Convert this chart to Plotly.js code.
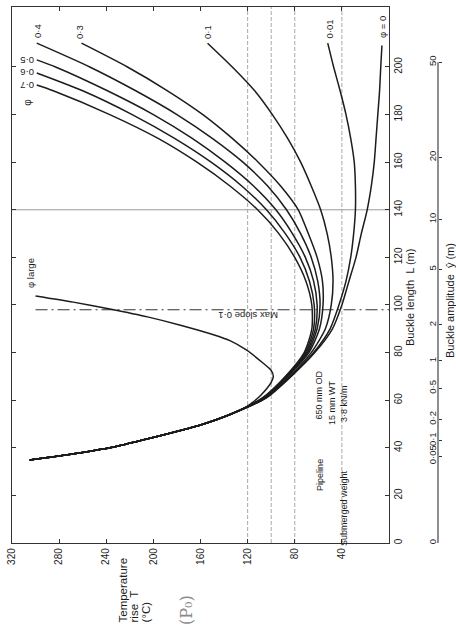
<!DOCTYPE html>
<html><head><meta charset="utf-8">
<script src="https://cdn.plot.ly/plotly-3.0.1.min.js"></script>
<style>html,body{margin:0;padding:0;background:#fff;} #chart{width:456px;height:628px;}</style>
</head><body><div id="chart"></div>
<script>
// ---------------- data ----------------
// Temperature rise T (°C) on the horizontal axis (reversed), buckle length L (m) vertical
const tempTicks = [40, 80, 120, 160, 200, 240, 280, 320];
const lenTicks = [0, 20, 40, 60, 80, 100, 120, 140, 160, 180, 200];
// buckle amplitude scale: tick positions (in L) and labels
const ampPosL = [0, 36.5, 43, 52, 65, 76.5, 91.6, 115, 136, 162, 202];
const ampLabels = ["0", "0·05", "0·1", "0·2", "0·5", "1", "2", "5", "10", "20", "50"];

// shared steep branch (all curves)
const branchL = [34.9, 37, 40, 44, 49.6, 54];
const branchT = [305, 274, 237, 203, 160, 135];

const phi0_L = [61, 70, 80, 90, 100, 110, 120, 130, 140, 150, 160, 170, 180, 190, 200, 209];
const phi0_T = [104, 83, 63, 48, 40, 34, 28, 23.5, 18.5, 15, 12.5, 11, 9.5, 8, 7, 6];
const phi001_L = [61, 70, 80, 90, 100, 110, 120, 130, 140, 150, 160, 170, 180, 190, 200, 210];
const phi001_T = [104.5, 83.5, 64, 50, 42.5, 36.5, 32.5, 30, 28.5, 28.5, 29.5, 32.5, 36.5, 41.5, 47, 52];
const phi01_L = [61, 70, 80, 90, 100, 110, 120, 130, 140, 150, 160, 170, 180, 190, 200, 210];
const phi01_T = [105, 84.5, 66, 54, 49, 47.5, 49, 52.5, 58, 66, 75, 86, 99, 114, 133, 154];
const phi03_L = [61, 70, 80, 90, 100, 110, 120, 130, 140, 150, 160, 170, 180, 190, 200, 210];
const phi03_T = [106, 86, 68, 59, 56, 56.5, 61, 68.5, 77, 92, 111, 133, 158, 188, 222, 261];
const phi04_L = [61, 70, 80, 90, 100, 110, 120, 130, 140, 150, 160, 170, 180, 190, 200, 210];
const phi04_T = [106, 86.5, 69, 61, 58.5, 60.5, 66, 75, 87, 103, 124, 150, 180, 215, 254, 299];
const phi05_L = [61, 70, 80, 90, 100, 110, 120, 130, 140, 150, 160, 170, 180, 190, 200, 203];
const phi05_T = [106.5, 87, 70, 62.5, 61, 64, 71, 82, 96, 115, 139, 167, 200, 239, 283, 299];
const phi06_L = [61, 70, 80, 90, 100, 110, 120, 130, 140, 150, 160, 170, 180, 190, 197.5];
const phi06_T = [107, 87.5, 71, 64, 63.5, 67.5, 75.5, 88, 104, 125, 151, 182, 218, 260, 299];
const phi07_L = [61, 70, 80, 90, 100, 110, 120, 130, 140, 150, 160, 170, 180, 190, 192.4];
const phi07_T = [107.5, 88, 72, 65.5, 65.5, 70.5, 80, 93.5, 111.5, 135, 163, 196, 237, 285, 299];
const large_L = [56, 59, 62, 65, 67.5, 70, 72.5, 75.5, 81, 85, 87.5, 91.5, 95, 98.3, 101.2, 103.8];
const large_T = [125, 116, 109, 103.5, 100, 98.2, 100, 106.7, 120.8, 135, 149, 177, 205, 237, 268, 300];

const curveLabels = ["φ = 0", "0·01", "0·1", "0·3", "0·4", "0·5", "0·6", "0·7", "φ large"];

const gridT = [120, 100, 80, 40];
const gridL = [140];
const maxSlopeL = 98;
const maxSlopeT = [300, 0];

const infoTexts = ["Pipeline", "650 mm OD", "15 mm WT", "Submerged weight", "3·8 kN/m"];
const tempTitle = ["Temperature", "rise  T", "(°C)"];

// ---------------- layout helpers (pixels of the 456x628 page) ----------------
const W = 456, H = 628;
const plotL = 12, plotR = 389, plotT = 7, plotB = 543, paperR = 454;
const pw = paperR - plotL, ph = plotB - plotT;
const px = X => (X - plotL) / pw;
const py = Y => (plotB - Y) / ph;
const FONT = "Liberation Sans, Arial, sans-serif";
const INK = "#1c1c1c";

const curves = [
  [phi0_L, phi0_T], [phi001_L, phi001_T], [phi01_L, phi01_T], [phi03_L, phi03_T],
  [phi04_L, phi04_T], [phi05_L, phi05_T], [phi06_L, phi06_T], [phi07_L, phi07_T], [large_L, large_T]
];

const traces = curves.map((c, i) => ({
  type: "scatter", mode: "lines", name: curveLabels[i],
  x: branchT.concat(c[1]), y: branchL.concat(c[0]),
  line: {color: INK, width: 1.5, shape: "spline", smoothing: 0.7},
  hoverinfo: "skip"
}));
// anchor trace for the amplitude axis
traces.push({type: "scatter", mode: "markers", x: [null], y: [null], yaxis: "y2", showlegend: false, hoverinfo: "skip"});

const shapes = [];
gridT.forEach(t => shapes.push({type: "line", xref: "x", yref: "paper", x0: t, x1: t, y0: 0, y1: 1,
  line: {color: "#a8a8a8", width: 1, dash: "4px,2px"}, layer: "below"}));
gridL.forEach(l => shapes.push({type: "line", xref: "x", yref: "y", x0: 320, x1: 0, y0: l, y1: l,
  line: {color: "#9a9a9a", width: 1}, layer: "below"}));
shapes.push({type: "line", xref: "x", yref: "y", x0: maxSlopeT[0], x1: maxSlopeT[1], y0: maxSlopeL, y1: maxSlopeL,
  line: {color: "#333", width: 1, dash: "12px,4px,2px,4px"}, layer: "below"});
// amplitude axis line (only up to the 50 m tick)
shapes.push({type: "line", xref: "paper", yref: "y", x0: px(438), x1: px(438), y0: ampPosL[0], y1: ampPosL[ampPosL.length - 1],
  line: {color: "#333", width: 1.1}});

// label positions in data units (T, L)
const labelPos = [
  {x: 5.1, y: 216.8, a: -90}, {x: 50.5, y: 216, a: -90}, {x: 153.7, y: 214.7, a: -90},
  {x: 262.3, y: 214.7, a: -90}, {x: 298.8, y: 215.1, a: -90},
  {x: 307.3, y: 202.5, a: 180}, {x: 307.3, y: 197.9, a: 180}, {x: 307.3, y: 192.2, a: 180},
  {x: 304.8, y: 113.4, a: -90}
];
const ann = labelPos.map((p, i) => ({
  xref: "x", yref: "y", x: p.x, y: p.y, text: curveLabels[i], textangle: p.a, showarrow: false,
  xanchor: "center", yanchor: "middle", font: {family: FONT, size: 9.5, color: INK}
}));
ann.push({xref: "x", yref: "y", x: 306.5, y: 185.3, text: "φ", textangle: -90, showarrow: false,
  xanchor: "center", yanchor: "middle", font: {family: FONT, size: 10, color: INK}});
ann.push({xref: "x", yref: "y", x: 119.7, y: 95.3, text: "Max slope 0·1", textangle: 180, showarrow: false,
  xanchor: "center", yanchor: "middle", font: {family: FONT, size: 9.5, color: INK}});
const infoPos = [{x: 58.6, y: 28.6}, {x: 58.6, y: 62.4}, {x: 48.4, y: 59.2}, {x: 38.2, y: 14.7}, {x: 38.2, y: 58.4}];
infoPos.forEach((p, i) => ann.push({xref: "x", yref: "y", x: p.x, y: p.y, text: infoTexts[i], textangle: -90,
  showarrow: false, xanchor: "center", yanchor: "middle", font: {family: FONT, size: 9, color: INK}}));
// axis titles
ann.push({xref: "paper", yref: "paper", x: px(410), y: py(298), xanchor: "center", yanchor: "middle",
  text: "Buckle length  L (m)", textangle: -90, showarrow: false, font: {family: FONT, size: 11, color: INK}});
ann.push({xref: "paper", yref: "paper", x: px(450), y: py(301), xanchor: "center", yanchor: "middle",
  text: "Buckle amplitude  ŷ (m)", textangle: -90, showarrow: false, font: {family: FONT, size: 11, color: INK}});
tempTitle.forEach((t, i) => ann.push({xref: "paper", yref: "paper",
  x: px(122 + 11.5 * i), y: py(625), xanchor: "center", yanchor: "bottom", text: t, textangle: -90, showarrow: false,
  font: {family: FONT, size: 11.5, color: INK}}));
ann.push({xref: "paper", yref: "paper", x: px(186), y: py(610), xanchor: "center", yanchor: "middle",
  text: "(P₀)", textangle: -90, showarrow: false,
  font: {family: "DejaVu Serif, serif", size: 16, color: "#8a8a8a"}});

const axisFont = {family: FONT, size: 10, color: INK};
const layout = {
  width: W, height: H, margin: {l: plotL, r: W - paperR, t: plotT, b: H - plotB},
  paper_bgcolor: "#ffffff", plot_bgcolor: "#ffffff", showlegend: false,
  xaxis: {domain: [0, (plotR - plotL) / pw], range: [320, 0], tickvals: tempTicks, tickangle: -90,
    ticks: "inside", ticklen: 4, tickcolor: "#333", showline: true, mirror: "ticks", linecolor: "#333", linewidth: 1.2,
    showgrid: false, zeroline: false, tickfont: axisFont, fixedrange: true},
  yaxis: {range: [0, 225.2], tickvals: lenTicks, side: "right", anchor: "x", tickangle: -90,
    ticks: "inside", ticklen: 4, tickcolor: "#333", showline: true, mirror: "ticks", linecolor: "#333", linewidth: 1.2,
    showgrid: false, zeroline: false, tickfont: axisFont, fixedrange: true},
  yaxis2: {overlaying: "y", anchor: "free", position: px(438), side: "left", range: [0, 225.2],
    tickvals: ampPosL, ticktext: ampLabels, tickangle: -90, ticks: "inside", ticklen: 3, tickcolor: "#333",
    showline: false, showgrid: false, zeroline: false, tickfont: {family: FONT, size: 9.5, color: INK}, fixedrange: true},
  shapes: shapes, annotations: ann
};
Plotly.newPlot("chart", traces, layout, {displayModeBar: false, staticPlot: true});
</script></body></html>
